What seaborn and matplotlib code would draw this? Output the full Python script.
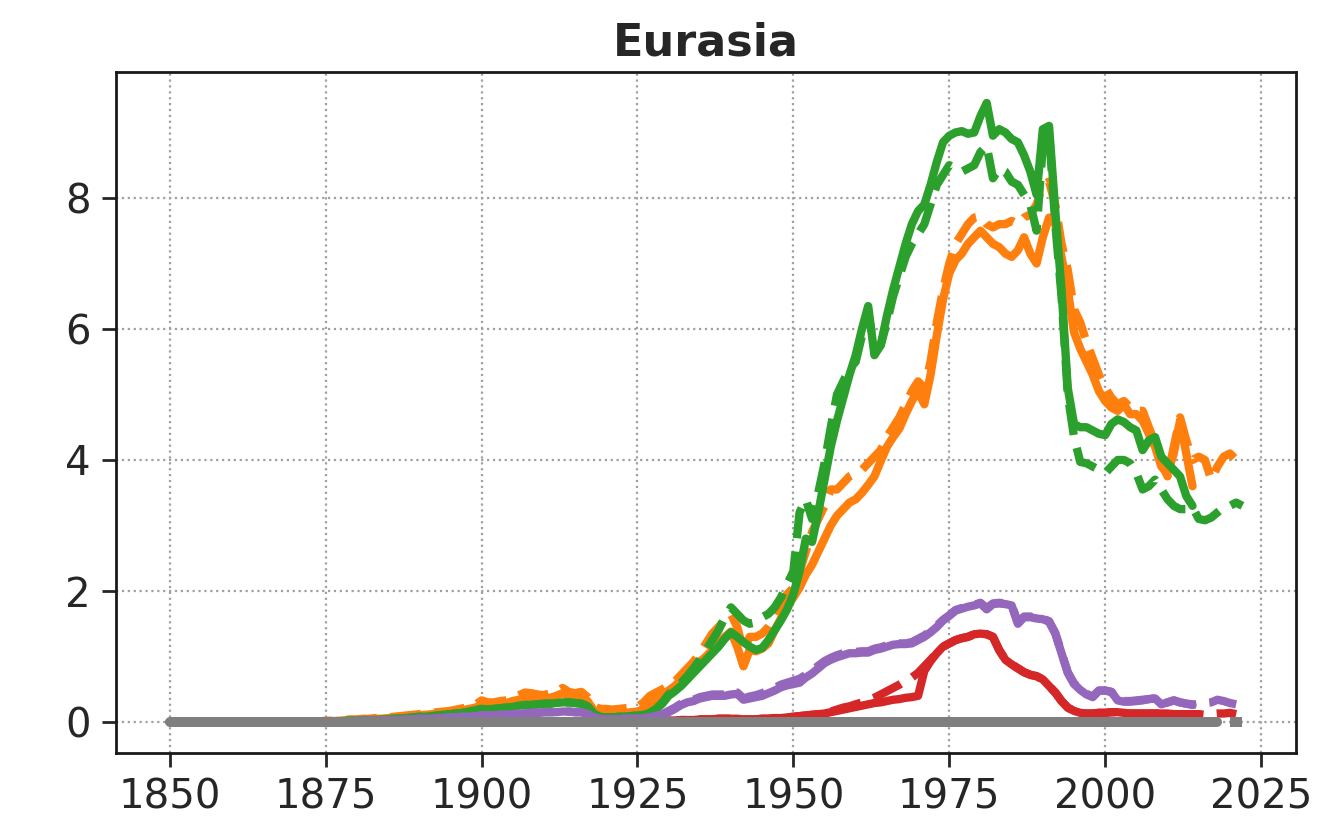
import numpy as np
import pandas as pd
import matplotlib
matplotlib.use("Agg")
import matplotlib.pyplot as plt
import seaborn as sns

title = "Eurasia"
years = list(range(1850, 2023))
x_ticks = [1850, 1875, 1900, 1925, 1950, 1975, 2000, 2025]
y_ticks = [0, 2, 4, 6, 8]

# ---- series values (one per year starting 1850) ----
orange_dashed = [
    0, 0, 0, 0, 0, 0, 0, 0, 0, 0,
    0, 0, 0, 0, 0, 0, 0, 0, 0, 0,
    0, 0, 0, 0.01, 0.01, 0.02, 0.02, 0.03, 0.03, 0.04,
    0.04, 0.05, 0.05, 0.06, 0.07, 0.07, 0.08, 0.09, 0.10, 0.11,
    0.12, 0.13, 0.14, 0.15, 0.16, 0.17, 0.19, 0.21, 0.23, 0.26,
    0.33, 0.30, 0.30, 0.32, 0.33, 0.37, 0.41, 0.45, 0.44, 0.42,
    0.41, 0.44, 0.46, 0.52, 0.46, 0.44, 0.46, 0.38, 0.24, 0.20,
    0.20, 0.19, 0.20, 0.21, 0.22, 0.23, 0.30, 0.40, 0.45, 0.50,
    0.55, 0.62, 0.72, 0.82, 0.92, 1.05, 1.20, 1.35, 1.45, 1.55,
    1.65, 1.45, 1.10, 1.30, 1.30, 1.35, 1.45, 1.60, 1.80, 1.95,
    2.05, 2.30, 2.60, 2.90, 3.10, 3.30, 3.55, 3.55, 3.65, 3.75,
    3.80, 3.85, 3.95, 4.05, 4.15, 4.35, 4.50, 4.65, 4.85, 5.05,
    5.20, 5.10, 5.50, 6.10, 6.60, 7.00, 7.30, 7.45, 7.60, 7.70,
    7.72, 7.60, 7.55, 7.60, 7.60, 7.65, 7.60, 7.70, 7.75, 7.90,
    8.20, 8.25, 7.90, 7.30, 6.90, 6.30, 6.10, 5.80, 5.55, 5.30,
    5.10, 4.95, 4.85, 4.90, 4.80, 4.75, 4.75, 4.50, 4.25, 3.95,
    3.75, 4.20, 4.65, 4.30, 4.00, 4.05, 4.00, 3.70, 3.90, 4.05,
    4.10, 4.00, 3.93,
]
orange_solid = [
    0, 0, 0, 0, 0, 0, 0, 0, 0, 0,
    0, 0, 0, 0, 0, 0, 0, 0, 0, 0,
    0, 0, 0, 0, 0.01, 0.01, 0.01, 0.02, 0.02, 0.03,
    0.03, 0.04, 0.04, 0.05, 0.05, 0.06, 0.07, 0.08, 0.09, 0.10,
    0.10, 0.11, 0.12, 0.13, 0.14, 0.15, 0.17, 0.18, 0.20, 0.22,
    0.26, 0.25, 0.26, 0.27, 0.29, 0.32, 0.34, 0.37, 0.36, 0.36,
    0.35, 0.37, 0.40, 0.44, 0.40, 0.39, 0.40, 0.32, 0.18, 0.14,
    0.13, 0.13, 0.14, 0.14, 0.15, 0.16, 0.20, 0.28, 0.35, 0.42,
    0.48, 0.55, 0.65, 0.75, 0.85, 0.92, 1.00, 1.10, 1.20, 1.30,
    1.38, 1.15, 0.85, 1.10, 1.08, 1.12, 1.20, 1.40, 1.58, 1.75,
    1.90, 2.05, 2.25, 2.40, 2.60, 2.80, 3.00, 3.15, 3.25, 3.35,
    3.40, 3.50, 3.62, 3.75, 3.98, 4.20, 4.35, 4.48, 4.70, 4.90,
    5.05, 4.85, 5.30, 5.90, 6.45, 6.85, 7.05, 7.15, 7.30, 7.40,
    7.50, 7.40, 7.30, 7.25, 7.15, 7.10, 7.20, 7.40, 7.15, 7.00,
    7.40, 7.70, 7.60, 7.10, 6.60, 5.95, 5.70, 5.50, 5.30, 5.05,
    4.90, 4.80, 4.75, 4.85, 4.70, 4.70, 4.60, 4.40, 4.20, 3.90,
    3.80, 4.10, 4.60, 4.10, 3.60,
]
green_dashed = [
    0, 0, 0, 0, 0, 0, 0, 0, 0, 0,
    0, 0, 0, 0, 0, 0, 0, 0, 0, 0,
    0, 0, 0, 0, 0, 0.01, 0.01, 0.01, 0.02, 0.02,
    0.02, 0.03, 0.03, 0.03, 0.04, 0.04, 0.05, 0.05, 0.06, 0.07,
    0.08, 0.08, 0.09, 0.10, 0.11, 0.12, 0.13, 0.14, 0.16, 0.18,
    0.20, 0.19, 0.20, 0.21, 0.22, 0.23, 0.25, 0.26, 0.26, 0.27,
    0.28, 0.28, 0.29, 0.30, 0.30, 0.29, 0.28, 0.24, 0.13, 0.08,
    0.07, 0.07, 0.08, 0.08, 0.09, 0.10, 0.11, 0.14, 0.20, 0.30,
    0.42, 0.50, 0.60, 0.70, 0.82, 0.95, 1.10, 1.25, 1.40, 1.60,
    1.75, 1.65, 1.55, 1.50, 1.52, 1.60, 1.65, 1.75, 1.90, 2.10,
    2.30, 3.20, 3.40, 3.10, 3.50, 3.95, 4.50, 5.00, 5.20, 5.40,
    5.50, 5.90, 6.25, 5.70, 5.75, 6.10, 6.50, 6.80, 7.10, 7.30,
    7.45, 7.60, 7.90, 8.20, 8.35, 8.50, 8.45, 8.40, 8.45, 8.50,
    8.70, 8.80, 8.30, 8.45, 8.40, 8.25, 8.20, 8.05, 7.90, 7.50,
    8.80, 9.00, 7.60, 6.50, 5.00, 4.35, 3.97, 3.95, 3.90, 3.85,
    3.80, 3.90, 4.00, 4.00, 3.95, 3.80, 3.55, 3.60, 3.70, 3.55,
    3.40, 3.30, 3.25, 3.25, 3.28, 3.10, 3.08, 3.12, 3.20, 3.28,
    3.30, 3.35, 3.30,
]
green_solid = [
    0, 0, 0, 0, 0, 0, 0, 0, 0, 0,
    0, 0, 0, 0, 0, 0, 0, 0, 0, 0,
    0, 0, 0, 0, 0, 0.01, 0.01, 0.01, 0.02, 0.02,
    0.02, 0.03, 0.03, 0.03, 0.04, 0.04, 0.05, 0.05, 0.06, 0.07,
    0.08, 0.08, 0.09, 0.10, 0.11, 0.12, 0.13, 0.14, 0.16, 0.18,
    0.20, 0.19, 0.20, 0.21, 0.22, 0.23, 0.25, 0.26, 0.26, 0.27,
    0.28, 0.28, 0.29, 0.30, 0.30, 0.29, 0.28, 0.24, 0.13, 0.08,
    0.07, 0.07, 0.08, 0.08, 0.09, 0.10, 0.11, 0.14, 0.20, 0.28,
    0.40, 0.47, 0.55, 0.65, 0.75, 0.85, 0.95, 1.05, 1.15, 1.27,
    1.37, 1.30, 1.22, 1.15, 1.10, 1.13, 1.25, 1.40, 1.55, 1.72,
    1.95, 2.30, 2.80, 2.75, 3.20, 3.70, 4.20, 4.60, 4.95, 5.30,
    5.60, 6.00, 6.35, 5.60, 5.75, 6.20, 6.60, 6.95, 7.30, 7.60,
    7.80, 7.90, 8.20, 8.55, 8.85, 8.95, 9.00, 9.02, 8.98, 9.00,
    9.25, 9.45, 8.95, 9.05, 9.00, 8.90, 8.85, 8.65, 8.40, 8.05,
    9.05, 9.10, 7.80, 6.60, 5.10, 4.55, 4.50, 4.50, 4.45, 4.40,
    4.38, 4.55, 4.62, 4.58, 4.50, 4.45, 4.15, 4.30, 4.35, 4.05,
    3.95, 3.85, 3.75, 3.45, 3.30,
]
red_dashed = [
    0, 0, 0, 0, 0, 0, 0, 0, 0, 0,
    0, 0, 0, 0, 0, 0, 0, 0, 0, 0,
    0, 0, 0, 0, 0, 0, 0, 0, 0, 0,
    0, 0, 0, 0, 0, 0, 0, 0, 0, 0,
    0, 0, 0, 0, 0, 0, 0, 0, 0, 0,
    0, 0, 0, 0, 0, 0, 0, 0, 0, 0,
    0, 0, 0, 0, 0, 0, 0, 0, 0, 0,
    0.01, 0.01, 0.01, 0.01, 0.01, 0.01, 0.01, 0.01, 0.02, 0.02,
    0.02, 0.02, 0.03, 0.03, 0.03, 0.04, 0.04, 0.04, 0.05, 0.05,
    0.05, 0.05, 0.04, 0.04, 0.04, 0.05, 0.05, 0.06, 0.06, 0.07,
    0.08, 0.09, 0.10, 0.11, 0.12, 0.14, 0.16, 0.19, 0.22, 0.24,
    0.27, 0.30, 0.33, 0.37, 0.42, 0.47, 0.52, 0.57, 0.63, 0.68,
    0.75, 0.85, 0.95, 1.05, 1.15, 1.20, 1.25, 1.28, 1.30, 1.34,
    1.35, 1.34, 1.30, 1.10, 0.95, 0.88, 0.82, 0.76, 0.72, 0.70,
    0.65, 0.55, 0.45, 0.32, 0.22, 0.17, 0.14, 0.13, 0.13, 0.14,
    0.14, 0.15, 0.15, 0.14, 0.13, 0.13, 0.13, 0.13, 0.13, 0.13,
    0.13, 0.12, 0.12, 0.12, 0.12, 0.12, 0.11, 0.12, 0.13, 0.13,
    0.14, 0.12,
]
red_solid = [
    0, 0, 0, 0, 0, 0, 0, 0, 0, 0,
    0, 0, 0, 0, 0, 0, 0, 0, 0, 0,
    0, 0, 0, 0, 0, 0, 0, 0, 0, 0,
    0, 0, 0, 0, 0, 0, 0, 0, 0, 0,
    0, 0, 0, 0, 0, 0, 0, 0, 0, 0,
    0, 0, 0, 0, 0, 0, 0, 0, 0, 0,
    0, 0, 0, 0, 0, 0, 0, 0, 0, 0,
    0.01, 0.01, 0.01, 0.01, 0.01, 0.01, 0.01, 0.01, 0.02, 0.02,
    0.02, 0.02, 0.03, 0.03, 0.03, 0.04, 0.04, 0.04, 0.05, 0.05,
    0.05, 0.05, 0.04, 0.04, 0.04, 0.05, 0.05, 0.06, 0.06, 0.07,
    0.08, 0.09, 0.10, 0.11, 0.12, 0.13, 0.15, 0.17, 0.19, 0.21,
    0.23, 0.25, 0.27, 0.29, 0.30, 0.32, 0.34, 0.35, 0.37, 0.38,
    0.40, 0.78, 0.93, 1.05, 1.15, 1.20, 1.25, 1.28, 1.30, 1.34,
    1.35, 1.34, 1.30, 1.10, 0.95, 0.88, 0.82, 0.76, 0.72, 0.70,
    0.65, 0.55, 0.45, 0.32, 0.22, 0.17, 0.14, 0.13, 0.13, 0.14,
    0.14, 0.15, 0.15, 0.14, 0.13, 0.13, 0.13, 0.13, 0.13, 0.13,
    0.13, 0.12, 0.12, 0.12, 0.12, 0.12,
]
purple_dashed = [
    0, 0, 0, 0, 0, 0, 0, 0, 0, 0,
    0, 0, 0, 0, 0, 0, 0, 0, 0, 0,
    0, 0, 0, 0, 0, 0.01, 0.01, 0.01, 0.01, 0.01,
    0.02, 0.02, 0.02, 0.02, 0.03, 0.03, 0.03, 0.03, 0.04, 0.04,
    0.05, 0.05, 0.05, 0.06, 0.06, 0.07, 0.07, 0.08, 0.08, 0.09,
    0.10, 0.10, 0.10, 0.11, 0.11, 0.12, 0.13, 0.13, 0.14, 0.14,
    0.15, 0.15, 0.15, 0.16, 0.16, 0.15, 0.15, 0.12, 0.07, 0.05,
    0.04, 0.04, 0.04, 0.05, 0.05, 0.05, 0.06, 0.07, 0.09, 0.12,
    0.17, 0.22, 0.28, 0.32, 0.34, 0.38, 0.40, 0.42, 0.42, 0.42,
    0.44, 0.45, 0.36, 0.39, 0.41, 0.44, 0.48, 0.52, 0.57, 0.60,
    0.63, 0.66, 0.72, 0.78, 0.86, 0.93, 0.98, 1.02, 1.05, 1.07,
    1.07, 1.08, 1.08, 1.12, 1.14, 1.17, 1.19, 1.20, 1.20, 1.22,
    1.27, 1.32, 1.39, 1.47, 1.56, 1.63, 1.71, 1.74, 1.77, 1.79,
    1.82, 1.74, 1.81, 1.82, 1.81, 1.79, 1.52, 1.61, 1.61, 1.59,
    1.58, 1.54, 1.36, 1.06, 0.76, 0.59, 0.50, 0.43, 0.39, 0.48,
    0.48, 0.46, 0.34, 0.32, 0.32, 0.33, 0.34, 0.35, 0.36, 0.28,
    0.30, 0.33, 0.30, 0.28, 0.27, 0.27, 0.29, 0.30, 0.34, 0.32,
    0.29, 0.27,
]
purple_solid = [
    0, 0, 0, 0, 0, 0, 0, 0, 0, 0,
    0, 0, 0, 0, 0, 0, 0, 0, 0, 0,
    0, 0, 0, 0, 0, 0.01, 0.01, 0.01, 0.01, 0.01,
    0.02, 0.02, 0.02, 0.02, 0.03, 0.03, 0.03, 0.03, 0.04, 0.04,
    0.05, 0.05, 0.05, 0.06, 0.06, 0.07, 0.07, 0.08, 0.08, 0.09,
    0.10, 0.10, 0.10, 0.11, 0.11, 0.12, 0.13, 0.13, 0.14, 0.14,
    0.15, 0.15, 0.15, 0.16, 0.16, 0.15, 0.15, 0.12, 0.07, 0.05,
    0.04, 0.04, 0.04, 0.05, 0.05, 0.05, 0.06, 0.07, 0.09, 0.11,
    0.15, 0.20, 0.26, 0.30, 0.32, 0.36, 0.38, 0.40, 0.40, 0.40,
    0.42, 0.43, 0.34, 0.36, 0.38, 0.40, 0.44, 0.48, 0.53, 0.56,
    0.58, 0.60, 0.68, 0.74, 0.82, 0.90, 0.95, 0.99, 1.02, 1.05,
    1.05, 1.06, 1.06, 1.10, 1.12, 1.15, 1.18, 1.19, 1.19, 1.20,
    1.25, 1.30, 1.37, 1.45, 1.55, 1.62, 1.70, 1.73, 1.76, 1.78,
    1.81, 1.72, 1.80, 1.81, 1.80, 1.78, 1.50, 1.60, 1.60, 1.58,
    1.57, 1.53, 1.35, 1.05, 0.75, 0.58, 0.49, 0.42, 0.38, 0.48,
    0.48, 0.46, 0.33, 0.31, 0.31, 0.32, 0.33, 0.35, 0.36, 0.27,
    0.30, 0.33, 0.30, 0.28, 0.26,
]
gray_dashed = [
    0, 0, 0, 0, 0, 0, 0, 0, 0, 0,
    0, 0, 0, 0, 0, 0, 0, 0, 0, 0,
    0, 0, 0, 0, 0, 0, 0, 0, 0, 0,
    0, 0, 0, 0, 0, 0, 0, 0, 0, 0,
    0, 0, 0, 0, 0, 0, 0, 0, 0, 0,
    0, 0, 0, 0, 0, 0, 0, 0, 0, 0,
    0, 0, 0, 0, 0, 0, 0, 0, 0, 0,
    0, 0, 0, 0, 0, 0, 0, 0, 0, 0,
    0, 0, 0, 0, 0, 0, 0, 0, 0, 0,
    0, 0, 0, 0, 0, 0, 0, 0, 0, 0,
    0, 0, 0, 0, 0, 0, 0, 0, 0, 0,
    0, 0, 0, 0, 0, 0, 0, 0, 0, 0,
    0, 0, 0, 0, 0, 0, 0, 0, 0, 0,
    0, 0, 0, 0, 0, 0, 0, 0, 0, 0,
    0, 0, 0, 0, 0, 0, 0, 0, 0, 0,
    0, 0, 0, 0, 0, 0, 0, 0, 0, 0,
    0, 0, 0, 0, 0, 0, 0, 0, 0, 0,
    0, 0, 0,
]
gray_solid = [
    0, 0, 0, 0, 0, 0, 0, 0, 0, 0,
    0, 0, 0, 0, 0, 0, 0, 0, 0, 0,
    0, 0, 0, 0, 0, 0, 0, 0, 0, 0,
    0, 0, 0, 0, 0, 0, 0, 0, 0, 0,
    0, 0, 0, 0, 0, 0, 0, 0, 0, 0,
    0, 0, 0, 0, 0, 0, 0, 0, 0, 0,
    0, 0, 0, 0, 0, 0, 0, 0, 0, 0,
    0, 0, 0, 0, 0, 0, 0, 0, 0, 0,
    0, 0, 0, 0, 0, 0, 0, 0, 0, 0,
    0, 0, 0, 0, 0, 0, 0, 0, 0, 0,
    0, 0, 0, 0, 0, 0, 0, 0, 0, 0,
    0, 0, 0, 0, 0, 0, 0, 0, 0, 0,
    0, 0, 0, 0, 0, 0, 0, 0, 0, 0,
    0, 0, 0, 0, 0, 0, 0, 0, 0, 0,
    0, 0, 0, 0, 0, 0, 0, 0, 0, 0,
    0, 0, 0, 0, 0, 0, 0, 0, 0, 0,
    0, 0, 0, 0, 0, 0, 0, 0, 0,
]

series = [
    ("orange_dashed", orange_dashed, "#ff7f0e", "--", 3.0),
    ("orange_solid", orange_solid, "#ff7f0e", "-", 3.0),
    ("green_dashed", green_dashed, "#2ca02c", "--", 3.0),
    ("green_solid", green_solid, "#2ca02c", "-", 3.0),
    ("red_dashed", red_dashed, "#d62728", "--", 3.0),
    ("red_solid", red_solid, "#d62728", "-", 3.0),
    ("purple_dashed", purple_dashed, "#9467bd", "--", 3.0),
    ("purple_solid", purple_solid, "#9467bd", "-", 3.0),
    ("gray_solid", gray_solid, "#7f7f7f", "-", 3.6),
    ("gray_dashed", gray_dashed, "#7f7f7f", "--", 3.6),
]

sns.set_theme(style="ticks", context="notebook")
plt.rcParams["font.family"] = ["DejaVu Sans"]

fig = plt.figure(figsize=(6.63, 4.12), dpi=200)
ax = fig.add_axes([0.0875, 0.0862, 0.8899, 0.8264])

for name, vals, color, ls, lw in series:
    df = pd.DataFrame({"year": years[:len(vals)], "value": vals})
    sns.lineplot(data=df, x="year", y="value", ax=ax, color=color,
                 linestyle=ls, linewidth=lw, errorbar=None)

ax.set_xticks(x_ticks)
ax.set_yticks(y_ticks)
ax.grid(True, linestyle=":", color="#a0a0a0", linewidth=0.8)
ax.set_xlabel("")
ax.set_ylabel("")
ax.set_title(title, fontsize=16, fontweight="bold", color="#262626", pad=6)
ax.tick_params(axis="both", labelsize=14.5, length=5, width=1.0,
               colors="#262626", pad=4)
for s in ax.spines.values():
    s.set_visible(True)
    s.set_linewidth(1.0)
    s.set_color("#1a1a1a")
ax.margins(x=0.05, y=0.05)

fig.savefig("out.png", dpi=200)
